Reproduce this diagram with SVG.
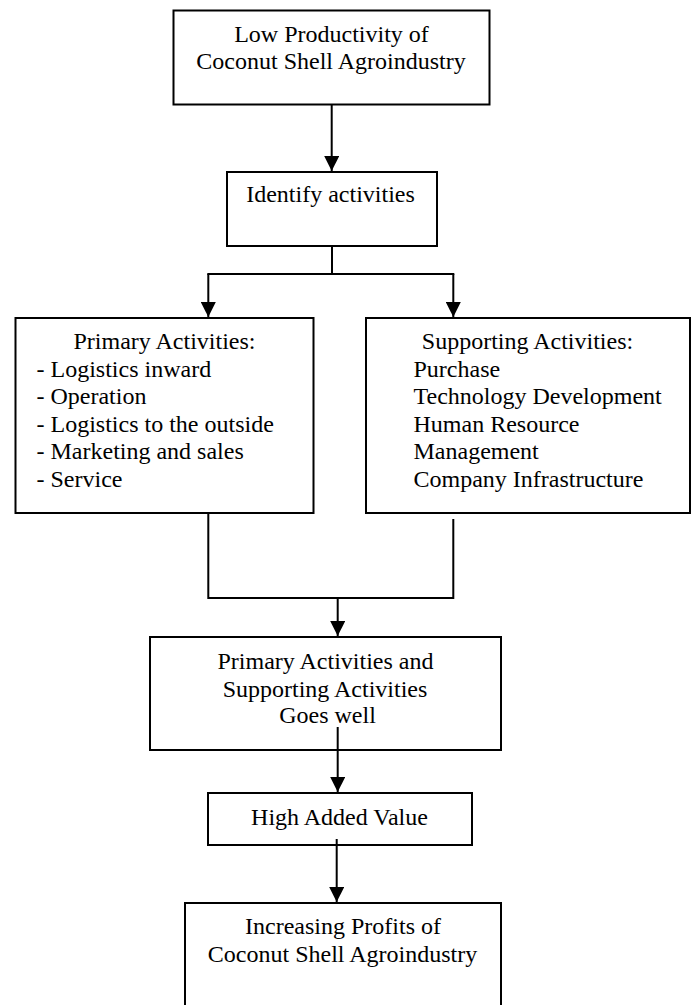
<svg xmlns="http://www.w3.org/2000/svg" width="694" height="1005" viewBox="0 0 694 1005">
  <style>
    .box { fill: #ffffff; stroke: #000000; stroke-width: 2; }
    .t { font-family: "Liberation Serif", "Times New Roman", serif; font-size: 24px; fill: #000000; }
    .c { text-anchor: middle; }
    .line { fill: none; stroke: #000000; stroke-width: 2; }
  </style>
  <defs>
    <marker id="ah" markerWidth="15" markerHeight="15" refX="15" refY="7.5" orient="auto" markerUnits="userSpaceOnUse">
      <path d="M0,0 L15,7.5 L0,15 Z" fill="#000000"/>
    </marker>
  </defs>
  <rect width="694" height="1005" fill="#ffffff"/>

  <g id="node-low-productivity">
    <rect class="box" x="173.5" y="10.5" width="316" height="94"/>
    <text class="t c" x="331.5" y="41.5">Low Productivity of</text>
    <text class="t c" x="331" y="69">Coconut Shell Agroindustry</text>
  </g>

  <g id="node-identify">
    <rect class="box" x="227" y="172" width="210" height="74"/>
    <text class="t c" x="330.5" y="201.5">Identify activities</text>
  </g>

  <g id="node-primary">
    <rect class="box" x="15.5" y="318" width="298" height="195"/>
    <text class="t c" x="164.5" y="349">Primary Activities:</text>
    <text class="t" x="36.5" y="376.5">- Logistics inward</text>
    <text class="t" x="36.5" y="404">- Operation</text>
    <text class="t" x="36.5" y="431.5">- Logistics to the outside</text>
    <text class="t" x="36.5" y="458.5">- Marketing and sales</text>
    <text class="t" x="36.5" y="486.5">- Service</text>
  </g>

  <g id="node-supporting">
    <rect class="box" x="366" y="318" width="324" height="195"/>
    <text class="t c" x="527.5" y="349">Supporting Activities:</text>
    <text class="t" x="413.5" y="377">Purchase</text>
    <text class="t" x="413.5" y="404">Technology Development</text>
    <text class="t" x="413.5" y="431.5">Human Resource</text>
    <text class="t" x="413.5" y="458.5">Management</text>
    <text class="t" x="413.5" y="486.5">Company Infrastructure</text>
  </g>

  <g id="node-goes-well">
    <rect class="box" x="150" y="637" width="351" height="113"/>
    <text class="t c" x="325.5" y="669">Primary Activities and</text>
    <text class="t c" x="325" y="697">Supporting Activities</text>
    <text class="t c" x="327.5" y="723">Goes well</text>
  </g>

  <g id="node-high-added-value">
    <rect class="box" x="208" y="793" width="264" height="52"/>
    <text class="t c" x="339.5" y="825">High Added Value</text>
  </g>

  <g id="node-increasing-profits">
    <rect class="box" x="185" y="903" width="316" height="110"/>
    <text class="t c" x="343" y="934">Increasing Profits of</text>
    <text class="t c" x="342.5" y="961.5">Coconut Shell Agroindustry</text>
  </g>

  <g id="connectors">
    <path class="line" d="M331.7,104.5 V171" marker-end="url(#ah)"/>
    <path class="line" d="M332,246 V274"/>
    <path class="line" d="M207.3,274 H454.3"/>
    <path class="line" d="M208.3,274 V317" marker-end="url(#ah)"/>
    <path class="line" d="M453.3,274 V317" marker-end="url(#ah)"/>
    <path class="line" d="M208.3,513 V598 H453.3 V519"/>
    <path class="line" d="M337.7,598 V636" marker-end="url(#ah)"/>
    <path class="line" d="M337.7,727 V792" marker-end="url(#ah)"/>
    <path class="line" d="M336.7,839 V902" marker-end="url(#ah)"/>
  </g>
</svg>
